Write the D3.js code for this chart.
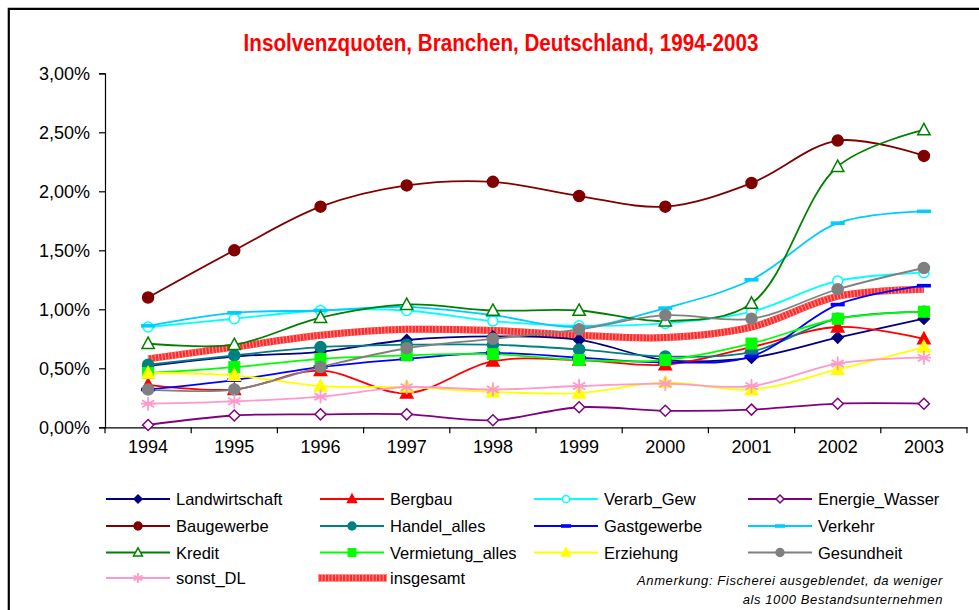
<!DOCTYPE html>
<meta charset="utf-8">
<script src="https://d3js.org/d3.v7.min.js"></script>
<style>
  body { margin: 0; background: #fff; }
  text { font-family: "Liberation Sans", Arial, sans-serif; }
</style>
<body>
<div id="chart"></div>
<script>
// categories
var years = ["1994", "1995", "1996", "1997", "1998", "1999", "2000", "2001", "2002", "2003"];

// series values (in %)
var landwirtschaft = [0.52, 0.60, 0.64, 0.74, 0.77, 0.74, 0.57, 0.59, 0.76, 0.92];
var bergbau        = [0.36, 0.32, 0.48, 0.29, 0.56, 0.57, 0.53, 0.68, 0.85, 0.75];
var verarbGew      = [0.85, 0.92, 0.99, 0.99, 0.90, 0.86, 0.88, 0.98, 1.24, 1.31];
var energieWasser  = [0.02, 0.10, 0.11, 0.11, 0.06, 0.17, 0.14, 0.15, 0.20, 0.20];
var baugewerbe     = [1.10, 1.50, 1.87, 2.05, 2.08, 1.96, 1.87, 2.07, 2.43, 2.30];
var handelAlles    = [0.53, 0.61, 0.68, 0.70, 0.70, 0.66, 0.60, 0.64, 0.92, 0.98];
var gastgewerbe    = [0.32, 0.40, 0.51, 0.58, 0.63, 0.59, 0.55, 0.60, 1.04, 1.20];
var verkehr        = [0.86, 0.97, 0.99, 1.02, 0.95, 0.85, 1.01, 1.25, 1.73, 1.83];
var kredit         = [0.71, 0.70, 0.93, 1.04, 0.99, 0.99, 0.90, 1.05, 2.21, 2.52];
var vermietung     = [0.46, 0.51, 0.58, 0.61, 0.62, 0.57, 0.57, 0.71, 0.92, 0.98];
var erziehung      = [0.46, 0.44, 0.35, 0.34, 0.30, 0.29, 0.38, 0.32, 0.49, 0.68];
var gesundheit     = [0.32, 0.32, 0.51, 0.67, 0.75, 0.83, 0.95, 0.92, 1.17, 1.35];
var sonstDL        = [0.20, 0.22, 0.26, 0.34, 0.32, 0.35, 0.37, 0.35, 0.54, 0.59];
var insgesamt      = [0.58, 0.68, 0.78, 0.83, 0.82, 0.78, 0.76, 0.85, 1.11, 1.17];

var yTicks = [0, 0.5, 1.0, 1.5, 2.0, 2.5, 3.0];

var series = [
  {name: "Landwirtschaft",   values: landwirtschaft, color: "#000080", marker: "diamond",  fill: true},
  {name: "Bergbau",          values: bergbau,        color: "#ff0000", marker: "triangle", fill: true},
  {name: "Verarb_Gew",       values: verarbGew,      color: "#00ffff", marker: "circle",   fill: false},
  {name: "Energie_Wasser",   values: energieWasser,  color: "#800080", marker: "diamond",  fill: false},
  {name: "Baugewerbe",       values: baugewerbe,     color: "#800000", marker: "circle",   fill: true},
  {name: "Handel_alles",     values: handelAlles,    color: "#008080", marker: "circle",   fill: true},
  {name: "Gastgewerbe",      values: gastgewerbe,    color: "#0000ff", marker: "dash",     fill: true},
  {name: "Verkehr",          values: verkehr,        color: "#00ccff", marker: "dash",     fill: true},
  {name: "Kredit",           values: kredit,         color: "#008000", marker: "triangle", fill: false},
  {name: "Vermietung_alles", values: vermietung,     color: "#00ff00", marker: "square",   fill: true},
  {name: "Erziehung",        values: erziehung,      color: "#ffff00", marker: "triangle", fill: true},
  {name: "Gesundheit",       values: gesundheit,     color: "#808080", marker: "circle",   fill: true},
  {name: "sonst_DL",         values: sonstDL,        color: "#ff99cc", marker: "asterisk", fill: false},
  {name: "insgesamt",        values: insgesamt,      color: "#ff3333", marker: "none",     fill: true}
];

var width = 979, height = 610;
var plot = {left: 105, right: 967, top: 73.3, bottom: 427.3};

var svg = d3.select("#chart").append("svg")
  .attr("width", width)
  .attr("height", height);

// outer frame (runs off the right and bottom edges)
svg.append("path")
  .attr("d", "M8.8,620 V8.8 H990")
  .attr("fill", "none")
  .attr("stroke", "#000")
  .attr("stroke-width", 2.2);

// title, squeezed horizontally like a narrow font
svg.append("text")
  .attr("transform", "translate(501,51) scale(0.86,1)")
  .attr("text-anchor", "middle")
  .style("font-weight", "bold")
  .style("font-size", "24px")
  .attr("fill", "#ff0000")
  .text("Insolvenzquoten, Branchen, Deutschland, 1994-2003");

var x = d3.scaleBand().domain(years).range([plot.left, plot.right]).paddingInner(0).paddingOuter(0);
var y = d3.scaleLinear().domain([0, 3]).range([plot.bottom, plot.top]);
var cx = function(d) { return x(d) + x.bandwidth() / 2; };

var de = d3.formatLocale({decimal: ",", thousands: ".", grouping: [3], currency: ["", " €"]});
var fmt = function(v) { return de.format(".2f")(v) + "%"; };

// y axis
var yAxis = svg.append("g")
  .attr("transform", "translate(" + plot.left + ",0)")
  .call(d3.axisLeft(y).tickValues(yTicks).tickFormat(fmt).tickSize(6).tickPadding(9));
yAxis.select(".domain").attr("stroke", "#000").attr("stroke-width", 1.2);
yAxis.selectAll(".tick line").attr("stroke", "#000").attr("stroke-width", 1.2);
yAxis.selectAll(".tick text")
  .style("font-family", "'Liberation Sans', Arial, sans-serif")
  .style("font-size", "18px")
  .attr("fill", "#000");

// x axis
var xAxis = svg.append("g")
  .attr("transform", "translate(0," + plot.bottom + ")")
  .call(d3.axisBottom(x).tickSize(0).tickPadding(13));
xAxis.select(".domain").attr("stroke", "#000").attr("stroke-width", 1.2);
xAxis.selectAll(".tick text")
  .style("font-family", "'Liberation Sans', Arial, sans-serif")
  .style("font-size", "18px")
  .attr("fill", "#000");
// category separators
xAxis.selectAll(".sep")
  .data(years.concat(["end"]))
  .enter().append("line")
  .attr("x1", function(d, i) { return plot.left + i * x.bandwidth(); })
  .attr("x2", function(d, i) { return plot.left + i * x.bandwidth(); })
  .attr("y1", 0).attr("y2", 6)
  .attr("stroke", "#000").attr("stroke-width", 1.2);

// marker drawing
function drawMarker(g, s, px, py, k) {
  var c = s.color;
  var fill = s.fill ? c : "#fff";
  if (s.marker === "diamond") {
    var r = 5.5 * k;
    g.append("path").attr("d", "M" + px + "," + (py - r) + "L" + (px + r) + "," + py + "L" + px + "," + (py + r) + "L" + (px - r) + "," + py + "Z")
      .attr("fill", fill).attr("stroke", c).attr("stroke-width", 1.5);
  } else if (s.marker === "circle") {
    g.append("circle").attr("cx", px).attr("cy", py).attr("r", (s.fill ? 5.5 : 5) * k)
      .attr("fill", fill).attr("stroke", c).attr("stroke-width", 1.5);
  } else if (s.marker === "triangle") {
    var t = 6.5 * k;
    g.append("path").attr("d", "M" + px + "," + (py - t) + "L" + (px + t * 0.95) + "," + (py + t * 0.75) + "L" + (px - t * 0.95) + "," + (py + t * 0.75) + "Z")
      .attr("fill", fill).attr("stroke", c).attr("stroke-width", 1.5);
  } else if (s.marker === "square") {
    var q = 5.5 * k;
    g.append("rect").attr("x", px - q).attr("y", py - q).attr("width", 2 * q).attr("height", 2 * q)
      .attr("fill", c).attr("stroke", c).attr("stroke-width", 1);
  } else if (s.marker === "dash") {
    var w = 7 * k;
    g.append("rect").attr("x", px - w).attr("y", py - 1.8).attr("width", 2 * w).attr("height", 3.6)
      .attr("fill", c);
  } else if (s.marker === "asterisk") {
    var a = 7 * k, p = "";
    [0, 60, 120].forEach(function(deg) {
      var rad = deg * Math.PI / 180;
      p += "M" + (px - a * Math.sin(rad)) + "," + (py - a * Math.cos(rad)) + "L" + (px + a * Math.sin(rad)) + "," + (py + a * Math.cos(rad));
    });
    p += "M" + (px - a) + "," + py + "L" + (px + a) + "," + py;
    g.append("path").attr("d", p).attr("stroke", c).attr("stroke-width", 1.8).attr("fill", "none");
  }
}

var line = d3.line()
  .x(function(d, i) { return cx(years[i]); })
  .y(function(d) { return y(d); })
  .curve(d3.curveCatmullRom.alpha(0.5));

// insgesamt goes underneath everything
var total = series[13];
function drawThick(g, d) {
  g.append("path").attr("d", d).attr("fill", "none").attr("stroke", "#ff2a2a").attr("stroke-width", 7);
  g.append("path").attr("d", d).attr("fill", "none").attr("stroke", "#ff8c8c").attr("stroke-width", 7)
    .attr("stroke-dasharray", "1.2,2.2");
}
var lines = svg.append("g");
drawThick(lines, line(total.values));

series.slice(0, 13).forEach(function(s) {
  var g = lines.append("g");
  g.append("path")
    .attr("d", line(s.values))
    .attr("fill", "none")
    .attr("stroke", s.color)
    .attr("stroke-width", 1.8);
});
series.slice(0, 13).forEach(function(s) {
  var g = lines.append("g");
  s.values.forEach(function(v, i) { drawMarker(g, s, cx(years[i]), y(v), 1); });
});

// legend
var colX = [106, 320, 534, 748];
var rowY = [499, 526, 552.5, 578];
var legend = svg.append("g");
series.forEach(function(s, i) {
  var lx = colX[i % 4], ly = rowY[Math.floor(i / 4)];
  var g = legend.append("g");
  if (s.marker === "none") {
    drawThick(g, "M" + (lx - 2) + "," + ly + "H" + (lx + 67));
  } else {
    g.append("line").attr("x1", lx).attr("x2", lx + 64).attr("y1", ly).attr("y2", ly)
      .attr("stroke", s.color).attr("stroke-width", 1.8);
    drawMarker(g, s, lx + 32, ly, 0.72);
  }
  g.append("text")
    .attr("x", lx + 70)
    .attr("y", ly + 6)
    .style("font-size", "16.5px")
    .attr("fill", "#000")
    .text(s.name);
});

// note
var note = svg.append("text")
  .attr("text-anchor", "end")
  .style("font-style", "italic")
  .style("font-size", "13px")
  .style("letter-spacing", "0.6px")
  .attr("fill", "#000");
note.append("tspan").attr("x", 943).attr("y", 585).text("Anmerkung: Fischerei ausgeblendet, da weniger");
note.append("tspan").attr("x", 943).attr("y", 604).text("als 1000 Bestandsunternehmen");
</script>
</body>
